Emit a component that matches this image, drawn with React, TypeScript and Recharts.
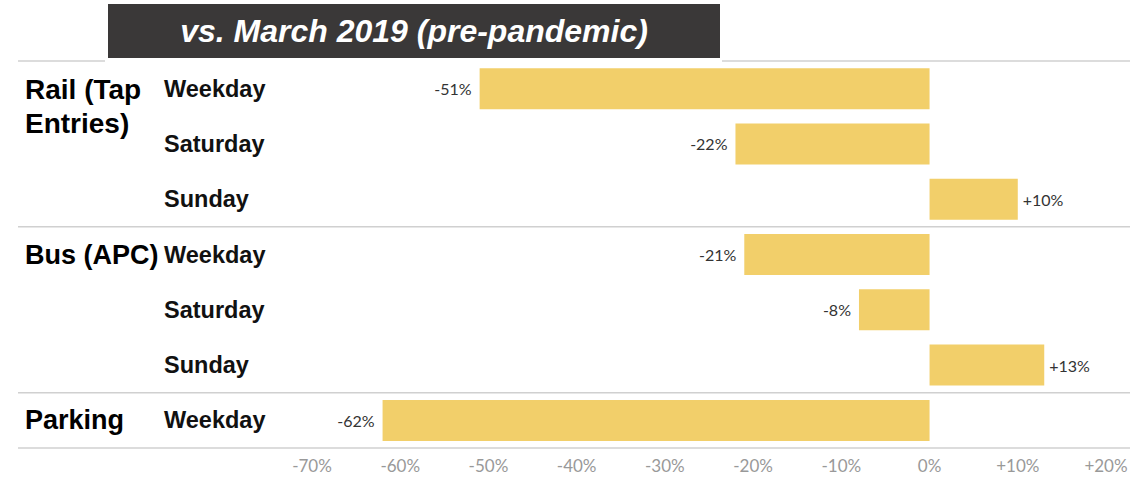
import { Bar, BarChart, LabelList, XAxis, YAxis } from 'recharts'

// ridership change by mode and day type, vs. March 2019
const groupLines = [['Rail (Tap', 'Entries)'], ['Bus (APC)'], ['Parking']]
const dayLabels = ['Weekday', 'Saturday', 'Sunday', 'Weekday', 'Saturday', 'Sunday', 'Weekday']
const groupIndex = [0, 0, 0, 1, 1, 1, 2]
const changes = [-51, -22, 10, -21, -8, 13, -62]
const xTicks = [-70, -60, -50, -40, -30, -20, -10, 0, 10, 20]

const W = 1139
const H = 477
const TOP = 61
const BOTTOM = 29
const BAND = (H - TOP - BOTTOM) / dayLabels.length
const LINE = '#d0d0d0'
const BAR = '#f2cf6a'
const HEAD = '"Liberation Sans", Arial, sans-serif'

const rows = dayLabels.map((day, i) => ({
  key: `r${i}`,
  day,
  group: groupIndex[i],
  value: changes[i],
}))

const fmt = (v: number) => (v > 0 ? `+${v}%` : `${v}%`)

function RowTick(props: any) {
  const { y, payload } = props
  const i = payload.index as number
  const row = rows[i]
  const first = i === 0 || groupIndex[i - 1] !== row.group
  const last = i === rows.length - 1
  const top = y - BAND / 2
  return (
    <g>
      {first && i === 0 && (
        <>
          <line x1={18} x2={105} y1={top} y2={top} stroke={LINE} strokeWidth={1.5} />
          <line x1={722} x2={1130} y1={top} y2={top} stroke={LINE} strokeWidth={1.5} />
        </>
      )}
      {first && i !== 0 && (
        <line x1={18} x2={1130} y1={top} y2={top} stroke={LINE} strokeWidth={1.5} />
      )}
      {last && (
        <line x1={18} x2={1130} y1={y + BAND / 2} y2={y + BAND / 2} stroke={LINE} strokeWidth={1.5} />
      )}
      {first && (
        <text x={25} y={y} fontFamily={HEAD} fontWeight="bold" fontSize={row.group === 0 ? 28 : 27} fill="#000" dominantBaseline="central">
          {groupLines[row.group].map((ln, k) => (
            <tspan key={k} x={25} dy={k === 0 ? 0 : 34}>
              {ln}
            </tspan>
          ))}
        </text>
      )}
      <text x={164} y={y} fontFamily={HEAD} fontWeight="bold" fontSize={23.5} fill="#111" dominantBaseline="central">
        {row.day}
      </text>
    </g>
  )
}

function ValueLabel(props: any) {
  const { x, y, width, height, value } = props
  const left = Math.min(x, x + width)
  const right = Math.max(x, x + width)
  const neg = value < 0
  return (
    <text
      x={neg ? left - 8 : right + 5}
      y={y + height / 2}
      textAnchor={neg ? 'end' : 'start'}
      dominantBaseline="central"
      fontFamily="Lato, sans-serif"
      fontSize={16}
      fill="#333"
    >
      {fmt(value)}
    </text>
  )
}

export default function App() {
  return (
    <div style={{ position: 'absolute', left: 0, top: 0, width: W, height: H, background: '#fff' }}>
      <BarChart
        width={W}
        height={H}
        data={rows}
        layout="vertical"
        margin={{ top: TOP, right: 33, bottom: 0, left: 0 }}
        barCategoryGap="13%"
      >
        <XAxis
          type="number"
          domain={[-70, 20]}
          ticks={xTicks}
          tickFormatter={fmt}
          axisLine={false}
          tickLine={false}
          height={BOTTOM}
          tick={{ fill: '#999', fontSize: 17, fontFamily: 'Lato, sans-serif', dy: 4 }}
          interval={0}
        />
        <YAxis type="category" dataKey="key" width={312} axisLine={false} tickLine={false} tick={<RowTick />} interval={0} />
        <Bar dataKey="value" fill={BAR} isAnimationActive={false}>
          <LabelList dataKey="value" content={<ValueLabel />} />
        </Bar>
      </BarChart>
      <div
        style={{
          position: 'absolute',
          left: 108,
          top: 4,
          width: 612,
          height: 54,
          background: '#3a3838',
          color: '#fff',
          fontFamily: HEAD,
          fontWeight: 'bold',
          fontStyle: 'italic',
          fontSize: 32,
          lineHeight: '54px',
          textAlign: 'center',
        }}
      >
        vs. March 2019 (pre-pandemic)
      </div>
    </div>
  )
}
